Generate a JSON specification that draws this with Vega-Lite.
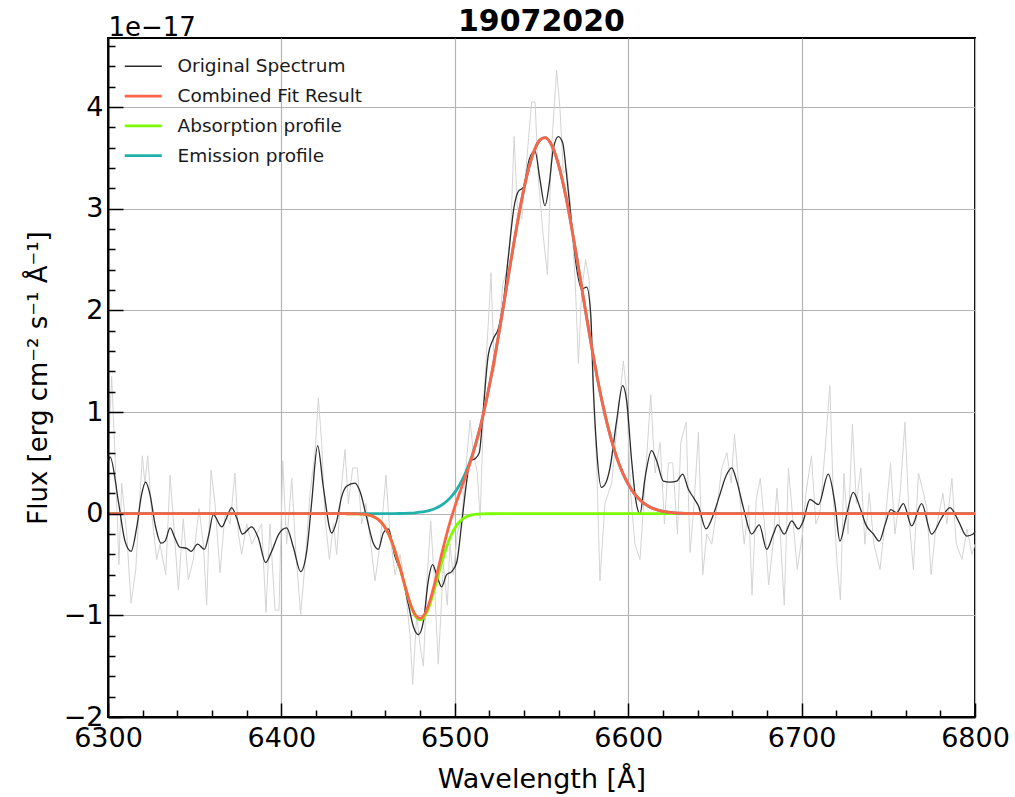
{
"$schema": "https://vega.github.io/schema/vega-lite/v6.json",
"width": 867, "height": 679,
"autosize": {"type": "none"},
"padding": {"left": 108, "top": 38, "right": 40, "bottom": 80},
"background": "white",
"config": {"view": {"stroke": "black", "strokeWidth": 2}, "font": "DejaVu Sans"},
"title": {"text": "19072020", "fontSize": 30, "fontWeight": "bold", "font": "DejaVu Sans", "offset": -23, "color": "black", "anchor": "middle", "frame": "group"},
"datasets": {
"raw": [
{"w":6300,"f":0.5},{"w":6302.1,"f":1.35},{"w":6304,"f":0.6},{"w":6306.3,"f":-0.5},{"w":6307.9,"f":0.3},{"w":6310.8,"f":-0.2},{"w":6313.3,"f":-0.88},{"w":6316,"f":-0.55},{"w":6317.5,"f":-0.1},{"w":6319.8,"f":0.57},{"w":6321.3,"f":0.3},{"w":6322.9,"f":0.57},{"w":6325.2,"f":0.0},{"w":6328.1,"f":-0.45},{"w":6330,"f":-0.3},{"w":6333.3,"f":-0.6},{"w":6335.8,"f":0.38},{"w":6338.3,"f":-0.2},{"w":6340.6,"f":-0.75},{"w":6343.4,"f":-0.05},{"w":6346.3,"f":-0.65},{"w":6349.2,"f":-0.45},{"w":6352.5,"f":0.05},{"w":6355,"f":-0.3},{"w":6356.9,"f":-0.9},{"w":6359.4,"f":0.43},{"w":6361.7,"f":0.1},{"w":6364.6,"f":-0.58},{"w":6367.5,"f":0.0},{"w":6370.4,"f":-0.1},{"w":6373.2,"f":0.4},{"w":6375.2,"f":-0.2},{"w":6377.1,"f":-0.4},{"w":6380,"f":-0.1},{"w":6382.9,"f":-0.3},{"w":6385.7,"f":-0.2},{"w":6388.6,"f":-0.1},{"w":6391.1,"f":-0.97},{"w":6393.4,"f":-0.1},{"w":6396.3,"f":-0.95},{"w":6398.6,"f":-0.95},{"w":6400.8,"f":0.52},{"w":6403,"f":-0.3},{"w":6406,"f":0.35},{"w":6408.4,"f":-0.4},{"w":6411.1,"f":-0.99},{"w":6413.6,"f":-0.5},{"w":6416.5,"f":0.2},{"w":6419.4,"f":0.6},{"w":6421.3,"f":1.14},{"w":6423.2,"f":0.7},{"w":6425.2,"f":-0.05},{"w":6427.7,"f":-0.45},{"w":6430,"f":-0.1},{"w":6431.9,"f":-0.4},{"w":6434.8,"f":0.3},{"w":6436.7,"f":0.63},{"w":6438.6,"f":0.1},{"w":6441.1,"f":0.45},{"w":6443.8,"f":0.45},{"w":6446.3,"f":-0.1},{"w":6448.8,"f":0.1},{"w":6451.5,"f":-0.3},{"w":6454,"f":-0.66},{"w":6456.9,"f":-0.3},{"w":6460.3,"f":0.38},{"w":6462.6,"f":-0.2},{"w":6465.5,"f":-0.6},{"w":6468.4,"f":-0.4},{"w":6471.3,"f":-0.7},{"w":6474.2,"f":-1.2},{"w":6475.7,"f":-1.68},{"w":6478,"f":-1.0},{"w":6480,"f":-1.3},{"w":6481.9,"f":-1.5},{"w":6483.8,"f":-0.7},{"w":6486.1,"f":-0.07},{"w":6488,"f":-0.6},{"w":6490.5,"f":-1.48},{"w":6493.4,"f":-0.5},{"w":6495.7,"f":-0.9},{"w":6497.2,"f":-0.3},{"w":6499.1,"f":-0.6},{"w":6501.4,"f":-0.2},{"w":6504,"f":-0.05},{"w":6506.4,"f":0.45},{"w":6508.8,"f":0.92},{"w":6510.7,"f":0.6},{"w":6513,"f":0.4},{"w":6514.6,"f":-0.05},{"w":6517,"f":1.2},{"w":6519.4,"f":1.9},{"w":6520.9,"f":2.37},{"w":6522.8,"f":1.4},{"w":6525.1,"f":1.7},{"w":6527.6,"f":2.25},{"w":6530,"f":2.4},{"w":6532.3,"f":2.8},{"w":6534.2,"f":3.71},{"w":6536.1,"f":3.0},{"w":6538.6,"f":2.9},{"w":6541.1,"f":3.4},{"w":6544.3,"f":4.05},{"w":6546.3,"f":4.05},{"w":6548.2,"f":3.3},{"w":6550.6,"f":2.8},{"w":6553.4,"f":2.35},{"w":6555.8,"f":3.6},{"w":6558.7,"f":4.36},{"w":6560.6,"f":4.0},{"w":6562.6,"f":3.35},{"w":6564.6,"f":3.4},{"w":6566.9,"f":3.0},{"w":6569.4,"f":2.3},{"w":6571.3,"f":1.48},{"w":6573.2,"f":2.2},{"w":6575.5,"f":2.5},{"w":6577.5,"f":2.3},{"w":6580,"f":1.1},{"w":6581.8,"f":0.5},{"w":6583.7,"f":-0.66},{"w":6586.6,"f":0.1},{"w":6588.5,"f":0.2},{"w":6590.5,"f":0.3},{"w":6594.3,"f":1.0},{"w":6597.2,"f":1.5},{"w":6599.1,"f":1.2},{"w":6601.4,"f":0.2},{"w":6603.9,"f":-0.3},{"w":6606.8,"f":-0.45},{"w":6609.7,"f":0.3},{"w":6613,"f":1.17},{"w":6615.5,"f":0.4},{"w":6618.4,"f":0.7},{"w":6620.9,"f":-0.1},{"w":6623.2,"f":0.5},{"w":6625.7,"f":0.5},{"w":6628.4,"f":-0.2},{"w":6630.3,"f":0.7},{"w":6633.4,"f":0.9},{"w":6635.7,"f":-0.38},{"w":6638,"f":0.1},{"w":6640.5,"f":0.8},{"w":6643,"f":-0.6},{"w":6645.3,"f":-0.2},{"w":6648.2,"f":-0.3},{"w":6651.1,"f":0.05},{"w":6654,"f":0.45},{"w":6656.9,"f":0.6},{"w":6659.4,"f":0.3},{"w":6661.3,"f":0.78},{"w":6664.2,"f":0.2},{"w":6666.9,"f":-0.3},{"w":6669.5,"f":0.08},{"w":6671.4,"f":-0.8},{"w":6673.9,"f":0.15},{"w":6676.2,"f":0.35},{"w":6679.1,"f":-0.2},{"w":6681,"f":-0.7},{"w":6683.5,"f":-0.3},{"w":6685.8,"f":0.25},{"w":6687.7,"f":-0.2},{"w":6690,"f":-0.9},{"w":6692.4,"f":0.45},{"w":6695.2,"f":-0.1},{"w":6697.5,"f":-0.55},{"w":6700.5,"f":-0.2},{"w":6702.5,"f":0.2},{"w":6705.7,"f":0.57},{"w":6708.2,"f":-0.1},{"w":6710.5,"f":0.0},{"w":6713.4,"f":0.6},{"w":6716.3,"f":1.26},{"w":6718.2,"f":0.2},{"w":6720.5,"f":-0.5},{"w":6722.4,"f":-0.85},{"w":6724.4,"f":0.4},{"w":6726.8,"f":-0.2},{"w":6729.3,"f":0.88},{"w":6731.6,"f":0.1},{"w":6734.2,"f":0.45},{"w":6736.5,"f":-0.3},{"w":6739,"f":0.2},{"w":6741.7,"f":-0.3},{"w":6745.2,"f":-0.55},{"w":6748.6,"f":0.0},{"w":6751.3,"f":0.5},{"w":6753.8,"f":-0.2},{"w":6756.8,"f":0.2},{"w":6759.6,"f":0.9},{"w":6762.2,"f":-0.1},{"w":6764.5,"f":-0.55},{"w":6767.4,"f":0.4},{"w":6770.3,"f":0.2},{"w":6772.2,"f":0.05},{"w":6774.7,"f":-0.6},{"w":6777,"f":-0.2},{"w":6781.5,"f":0.2},{"w":6783.8,"f":-0.1},{"w":6786.7,"f":0.35},{"w":6789.2,"f":-0.3},{"w":6792.5,"f":-0.45},{"w":6795.4,"f":-0.15},{"w":6798.3,"f":-0.4},{"w":6800,"f":-0.3}
],
"sm": [
{"w":6300,"f":0.5},{"w":6301.2,"f":0.56},{"w":6306,"f":0.12},{"w":6309.8,"f":-0.27},{"w":6313.3,"f":-0.37},{"w":6316.5,"f":-0.14},{"w":6319.4,"f":0.19},{"w":6321.7,"f":0.31},{"w":6324.2,"f":0.19},{"w":6327.1,"f":-0.1},{"w":6330.6,"f":-0.29},{"w":6332.9,"f":-0.27},{"w":6335.8,"f":-0.14},{"w":6338.6,"f":-0.24},{"w":6341.5,"f":-0.33},{"w":6345.4,"f":-0.34},{"w":6347.9,"f":-0.37},{"w":6351.7,"f":-0.3},{"w":6355.6,"f":-0.35},{"w":6358.2,"f":-0.2},{"w":6360.7,"f":-0.01},{"w":6365.6,"f":-0.13},{"w":6368.4,"f":-0.04},{"w":6371.3,"f":0.06},{"w":6374.2,"f":-0.04},{"w":6377.5,"f":-0.2},{"w":6382.9,"f":-0.13},{"w":6386.7,"f":-0.24},{"w":6390.9,"f":-0.48},{"w":6394.4,"f":-0.37},{"w":6398.5,"f":-0.2},{"w":6403,"f":-0.14},{"w":6406.9,"f":-0.33},{"w":6411.1,"f":-0.57},{"w":6414.6,"f":-0.37},{"w":6417.5,"f":0.12},{"w":6420.9,"f":0.67},{"w":6424.2,"f":0.26},{"w":6429,"f":-0.19},{"w":6431.9,"f":-0.07},{"w":6434.8,"f":0.17},{"w":6437.6,"f":0.27},{"w":6442.4,"f":0.3},{"w":6445.3,"f":0.22},{"w":6449.2,"f":-0.04},{"w":6453,"f":-0.29},{"w":6455.9,"f":-0.35},{"w":6458.8,"f":-0.19},{"w":6461.7,"f":-0.15},{"w":6465.5,"f":-0.42},{"w":6469.4,"f":-0.6},{"w":6473.2,"f":-0.89},{"w":6476.1,"f":-1.11},{"w":6479,"f":-1.19},{"w":6481.9,"f":-1.06},{"w":6484.7,"f":-0.66},{"w":6487.2,"f":-0.5},{"w":6489.5,"f":-0.6},{"w":6492.4,"f":-0.72},{"w":6495.3,"f":-0.6},{"w":6498.2,"f":-0.57},{"w":6501.1,"f":-0.48},{"w":6504,"f":-0.09},{"w":6506.8,"f":0.31},{"w":6508.8,"f":0.52},{"w":6511.6,"f":0.54},{"w":6514.1,"f":0.6},{"w":6516.5,"f":1.04},{"w":6519.3,"f":1.56},{"w":6522.2,"f":1.72},{"w":6525.1,"f":1.82},{"w":6528,"f":2.08},{"w":6530.9,"f":2.53},{"w":6534.1,"f":3.01},{"w":6536.6,"f":3.17},{"w":6539.5,"f":3.21},{"w":6543,"f":3.49},{"w":6546.2,"f":3.57},{"w":6549.1,"f":3.29},{"w":6552,"f":3.03},{"w":6554.5,"f":3.25},{"w":6556.8,"f":3.59},{"w":6559.7,"f":3.71},{"w":6562.2,"f":3.65},{"w":6564.5,"f":3.33},{"w":6567.4,"f":2.85},{"w":6570.3,"f":2.41},{"w":6573.2,"f":2.21},{"w":6576.1,"f":2.23},{"w":6578.4,"f":1.96},{"w":6579.9,"f":1.24},{"w":6581.8,"f":0.64},{"w":6584.5,"f":0.26},{"w":6587,"f":0.3},{"w":6589.5,"f":0.45},{"w":6593.3,"f":0.91},{"w":6596.8,"f":1.26},{"w":6599.1,"f":1.11},{"w":6602,"f":0.52},{"w":6604.5,"f":0.12},{"w":6606.8,"f":0.0},{"w":6609.7,"f":0.35},{"w":6613.5,"f":0.62},{"w":6616.4,"f":0.52},{"w":6620.3,"f":0.32},{"w":6624.1,"f":0.31},{"w":6628,"f":0.32},{"w":6631.4,"f":0.39},{"w":6634.7,"f":0.24},{"w":6637.6,"f":0.16},{"w":6640.4,"f":0.08},{"w":6644.9,"f":-0.15},{"w":6649.1,"f":-0.01},{"w":6652.9,"f":0.19},{"w":6656.4,"f":0.37},{"w":6659.7,"f":0.45},{"w":6662.6,"f":0.32},{"w":6666.4,"f":0.06},{"w":6671.2,"f":-0.2},{"w":6675.6,"f":-0.11},{"w":6679.9,"f":-0.35},{"w":6683.7,"f":-0.2},{"w":6686.2,"f":-0.11},{"w":6690,"f":-0.2},{"w":6694.3,"f":-0.07},{"w":6698.1,"f":-0.15},{"w":6701,"f":-0.07},{"w":6704.8,"f":0.14},{"w":6709.7,"f":0.09},{"w":6715.4,"f":0.39},{"w":6719.3,"f":0.09},{"w":6722.1,"f":-0.27},{"w":6725.6,"f":-0.04},{"w":6729.8,"f":0.21},{"w":6733.7,"f":0.06},{"w":6737.1,"f":-0.11},{"w":6741.4,"f":-0.2},{"w":6744.8,"f":-0.27},{"w":6748.1,"f":-0.11},{"w":6751.4,"f":0.04},{"w":6754.8,"f":0.01},{"w":6758.7,"f":0.1},{"w":6763.5,"f":-0.12},{"w":6769.2,"f":0.1},{"w":6775,"f":-0.2},{"w":6780.8,"f":-0.04},{"w":6785.6,"f":0.06},{"w":6790.4,"f":-0.07},{"w":6795.2,"f":-0.22},{"w":6799,"f":-0.2},{"w":6800,"f":-0.17}
],
"fit": [
{"w":6300,"e":0,"a":0,"c":0},{"w":6420,"e":0,"a":0,"c":0},{"w":6435,"e":0,"a":0,"c":0},{"w":6438,"e":0,"a":-0.0002,"c":-0.0002},{"w":6441,"e":0,"a":-0.0005,"c":-0.0005},{"w":6444,"e":0,"a":-0.0016,"c":-0.0016},{"w":6447,"e":0,"a":-0.0045,"c":-0.0045},{"w":6450,"e":0.0001,"a":-0.0116,"c":-0.0115},{"w":6453,"e":0.0001,"a":-0.0273,"c":-0.0272},{"w":6456,"e":0.0002,"a":-0.0587,"c":-0.0585},{"w":6459,"e":0.0004,"a":-0.1152,"c":-0.1148},{"w":6462,"e":0.0006,"a":-0.2068,"c":-0.2062},{"w":6465,"e":0.0011,"a":-0.3393,"c":-0.3382},{"w":6468,"e":0.002,"a":-0.5087,"c":-0.5067},{"w":6471,"e":0.0033,"a":-0.697,"c":-0.6937},{"w":6474,"e":0.0056,"a":-0.8729,"c":-0.8673},{"w":6477,"e":0.0091,"a":-0.999,"c":-0.9899},{"w":6480,"e":0.0147,"a":-1.045,"c":-1.0303},{"w":6483,"e":0.0231,"a":-0.999,"c":-0.9759},{"w":6486,"e":0.0357,"a":-0.8729,"c":-0.8372},{"w":6489,"e":0.0541,"a":-0.697,"c":-0.6429},{"w":6492,"e":0.0804,"a":-0.5087,"c":-0.4283},{"w":6495,"e":0.1171,"a":-0.3393,"c":-0.2222},{"w":6498,"e":0.1674,"a":-0.2068,"c":-0.0394},{"w":6501,"e":0.2346,"a":-0.1152,"c":0.1194},{"w":6504,"e":0.3225,"a":-0.0587,"c":0.2638},{"w":6507,"e":0.4347,"a":-0.0273,"c":0.4074},{"w":6510,"e":0.5743,"a":-0.0116,"c":0.5627},{"w":6513,"e":0.7449,"a":-0.0045,"c":0.7404},{"w":6516,"e":0.9469,"a":-0.0016,"c":0.9453},{"w":6519,"e":1.1807,"a":-0.0005,"c":1.1802},{"w":6522,"e":1.4433,"a":-0.0002,"c":1.4431},{"w":6525,"e":1.7312,"a":0,"c":1.7312},{"w":6528,"e":2.0361,"a":0,"c":2.0361},{"w":6531,"e":2.3484,"a":0,"c":2.3484},{"w":6534,"e":2.6566,"a":0,"c":2.6566},{"w":6537,"e":2.9474,"a":0,"c":2.9474},{"w":6540,"e":3.2068,"a":0,"c":3.2068},{"w":6543,"e":3.4218,"a":0,"c":3.4218},{"w":6546,"e":3.5809,"a":0,"c":3.5809},{"w":6549,"e":3.6751,"a":0,"c":3.6751},{"w":6552,"e":3.699,"a":0,"c":3.699},{"w":6555,"e":3.6513,"a":0,"c":3.6513},{"w":6558,"e":3.5347,"a":0,"c":3.5347},{"w":6561,"e":3.3559,"a":0,"c":3.3559},{"w":6564,"e":3.1247,"a":0,"c":3.1247},{"w":6567,"e":2.8531,"a":0,"c":2.8531},{"w":6570,"e":2.5552,"a":0,"c":2.5552},{"w":6573,"e":2.2441,"a":0,"c":2.2441},{"w":6576,"e":1.9329,"a":0,"c":1.9329},{"w":6579,"e":1.6328,"a":0,"c":1.6328},{"w":6582,"e":1.3527,"a":0,"c":1.3527},{"w":6585,"e":1.0989,"a":0,"c":1.0989},{"w":6588,"e":0.8758,"a":0,"c":0.8758},{"w":6591,"e":0.6841,"a":0,"c":0.6841},{"w":6594,"e":0.5243,"a":0,"c":0.5243},{"w":6597,"e":0.3941,"a":0,"c":0.3941},{"w":6600,"e":0.2905,"a":0,"c":0.2905},{"w":6603,"e":0.21,"a":0,"c":0.21},{"w":6606,"e":0.1489,"a":0,"c":0.1489},{"w":6609,"e":0.1035,"a":0,"c":0.1035},{"w":6612,"e":0.0706,"a":0,"c":0.0706},{"w":6615,"e":0.0472,"a":0,"c":0.0472},{"w":6618,"e":0.031,"a":0,"c":0.031},{"w":6621,"e":0.0199,"a":0,"c":0.0199},{"w":6624,"e":0.0126,"a":0,"c":0.0126},{"w":6627,"e":0.0078,"a":0,"c":0.0078},{"w":6630,"e":0.0047,"a":0,"c":0.0047},{"w":6633,"e":0.0028,"a":0,"c":0.0028},{"w":6636,"e":0.0016,"a":0,"c":0.0016},{"w":6639,"e":0.0009,"a":0,"c":0.0009},{"w":6642,"e":0.0005,"a":0,"c":0.0005},{"w":6645,"e":0.0003,"a":0,"c":0.0003},{"w":6650,"e":0,"a":0,"c":0},{"w":6800,"e":0,"a":0,"c":0}
]
},
"layer": [
{
"data": {"name": "raw"},
"mark": {"type": "line", "color": "#d4d4d4", "strokeWidth": 1},
"encoding": {
"x": {"field": "w", "type": "quantitative", "scale": {"domain": [6300, 6800], "nice": false, "zero": false},
"axis": {"orient": "bottom", "values": [6300,6400,6500,6600,6700,6800], "grid": true, "gridColor": "#b4b4b4", "gridWidth": 1.2, "ticks": false, "labels": false, "domain": false, "title": null, "zindex": 0}},
"y": {"field": "f", "type": "quantitative", "scale": {"domain": [-2, 4.68], "nice": false, "zero": false},
"axis": {"orient": "left", "values": [-2,-1,0,1,2,3,4], "grid": true, "gridColor": "#b4b4b4", "gridWidth": 1.2, "ticks": false, "labels": false, "domain": false, "title": null, "zindex": 0}}
}
},
{
"data": {"name": "sm"},
"mark": {"type": "line", "strokeWidth": 1.3, "interpolate": "monotone"},
"encoding": {
"x": {"field": "w", "type": "quantitative",
"axis": {"orient": "bottom", "values": [6320,6340,6360,6380,6420,6440,6460,6480,6520,6540,6560,6580,6620,6640,6660,6680,6720,6740,6760,6780], "grid": false, "labels": false, "domain": false, "ticks": true, "tickSize": -7, "tickWidth": 1.5, "tickColor": "black", "title": null, "zindex": 1}},
"y": {"field": "f", "type": "quantitative",
"axis": {"orient": "left", "values": [-1.8,-1.6,-1.4,-1.2,-0.8,-0.6,-0.4,-0.2,0.2,0.4,0.6,0.8,1.2,1.4,1.6,1.8,2.2,2.4,2.6,2.8,3.2,3.4,3.6,3.8,4.2,4.4,4.6], "grid": false, "labels": false, "domain": false, "ticks": true, "tickSize": -7, "tickWidth": 1.5, "tickColor": "black", "zindex": 1,
"title": "1e−17", "titleAngle": 0, "titleX": 0, "titleY": -3, "titleAlign": "left", "titleBaseline": "alphabetic", "titleFontSize": 26, "titleFontWeight": "normal", "titleColor": "black", "titleFont": "DejaVu Sans"}},
"color": {"datum": "Original Spectrum"}
}
},
{
"data": {"name": "fit"},
"mark": {"type": "line", "strokeWidth": 2.8, "interpolate": "monotone"},
"encoding": {
"x": {"field": "w", "type": "quantitative",
"axis": {"orient": "bottom", "values": [6300,6400,6500,6600,6700,6800], "format": "d", "grid": false, "domain": true, "domainColor": "black", "domainWidth": 2, "ticks": true, "tickColor": "black", "tickWidth": 1.5, "tickSize": -14, "labelPadding": 22, "labelFontSize": 27, "labelColor": "black", "labelFont": "DejaVu Sans", "labelFlush": false, "labelOverlap": false, "title": "Wavelength [Å]", "titleFont": "DejaVu Sans", "titleFontSize": 27, "titleFontWeight": "normal", "titlePadding": 15, "titleColor": "black", "zindex": 1}},
"y": {"field": "a", "type": "quantitative",
"axis": {"orient": "left", "values": [-2,-1,0,1,2,3,4], "grid": false, "domain": true, "domainColor": "black", "domainWidth": 2, "ticks": true, "tickColor": "black", "tickWidth": 1.5, "tickSize": -15, "labelPadding": 20, "labelFontSize": 27, "labelColor": "black", "labelFont": "DejaVu Sans", "labelFlush": false, "labelOverlap": false, "title": "Flux [erg cm⁻² s⁻¹ Å⁻¹]", "titleFont": "DejaVu Sans", "titleFontSize": 26, "titleFontWeight": "normal", "titlePadding": 12, "titleColor": "black", "zindex": 1}},
"color": {"datum": "Absorption profile"}
}
},
{
"data": {"name": "fit"},
"mark": {"type": "line", "strokeWidth": 2.8, "interpolate": "monotone"},
"encoding": {
"x": {"field": "w", "type": "quantitative", "axis": null},
"y": {"field": "e", "type": "quantitative", "axis": null},
"color": {"datum": "Emission profile"}
}
},
{
"data": {"name": "fit"},
"mark": {"type": "line", "strokeWidth": 2.8, "interpolate": "monotone"},
"encoding": {
"x": {"field": "w", "type": "quantitative", "axis": null},
"y": {"field": "c", "type": "quantitative", "axis": null},
"color": {"datum": "Combined Fit Result",
"scale": {"domain": ["Original Spectrum", "Combined Fit Result", "Absorption profile", "Emission profile"], "range": ["#2b2b2b", "#ff6347", "#7cfc00", "#20b2aa"]},
"legend": {"orient": "none", "legendX": 26, "legendY": 19, "title": null, "symbolType": "stroke", "symbolSize": 1369, "symbolStrokeWidth": 2.8, "labelFont": "DejaVu Sans", "labelFontSize": 18.5, "labelColor": "#1a1a1a", "labelOffset": 25, "rowPadding": 10.8, "padding": 0, "labelLimit": 400,
"encode": {"symbols": {"update": {"strokeWidth": {"signal": "datum.value === 'Original Spectrum' ? 1.3 : 2.8"}}}}}}
}
}
],
"resolve": {"axis": {"x": "independent", "y": "independent"}}
}
